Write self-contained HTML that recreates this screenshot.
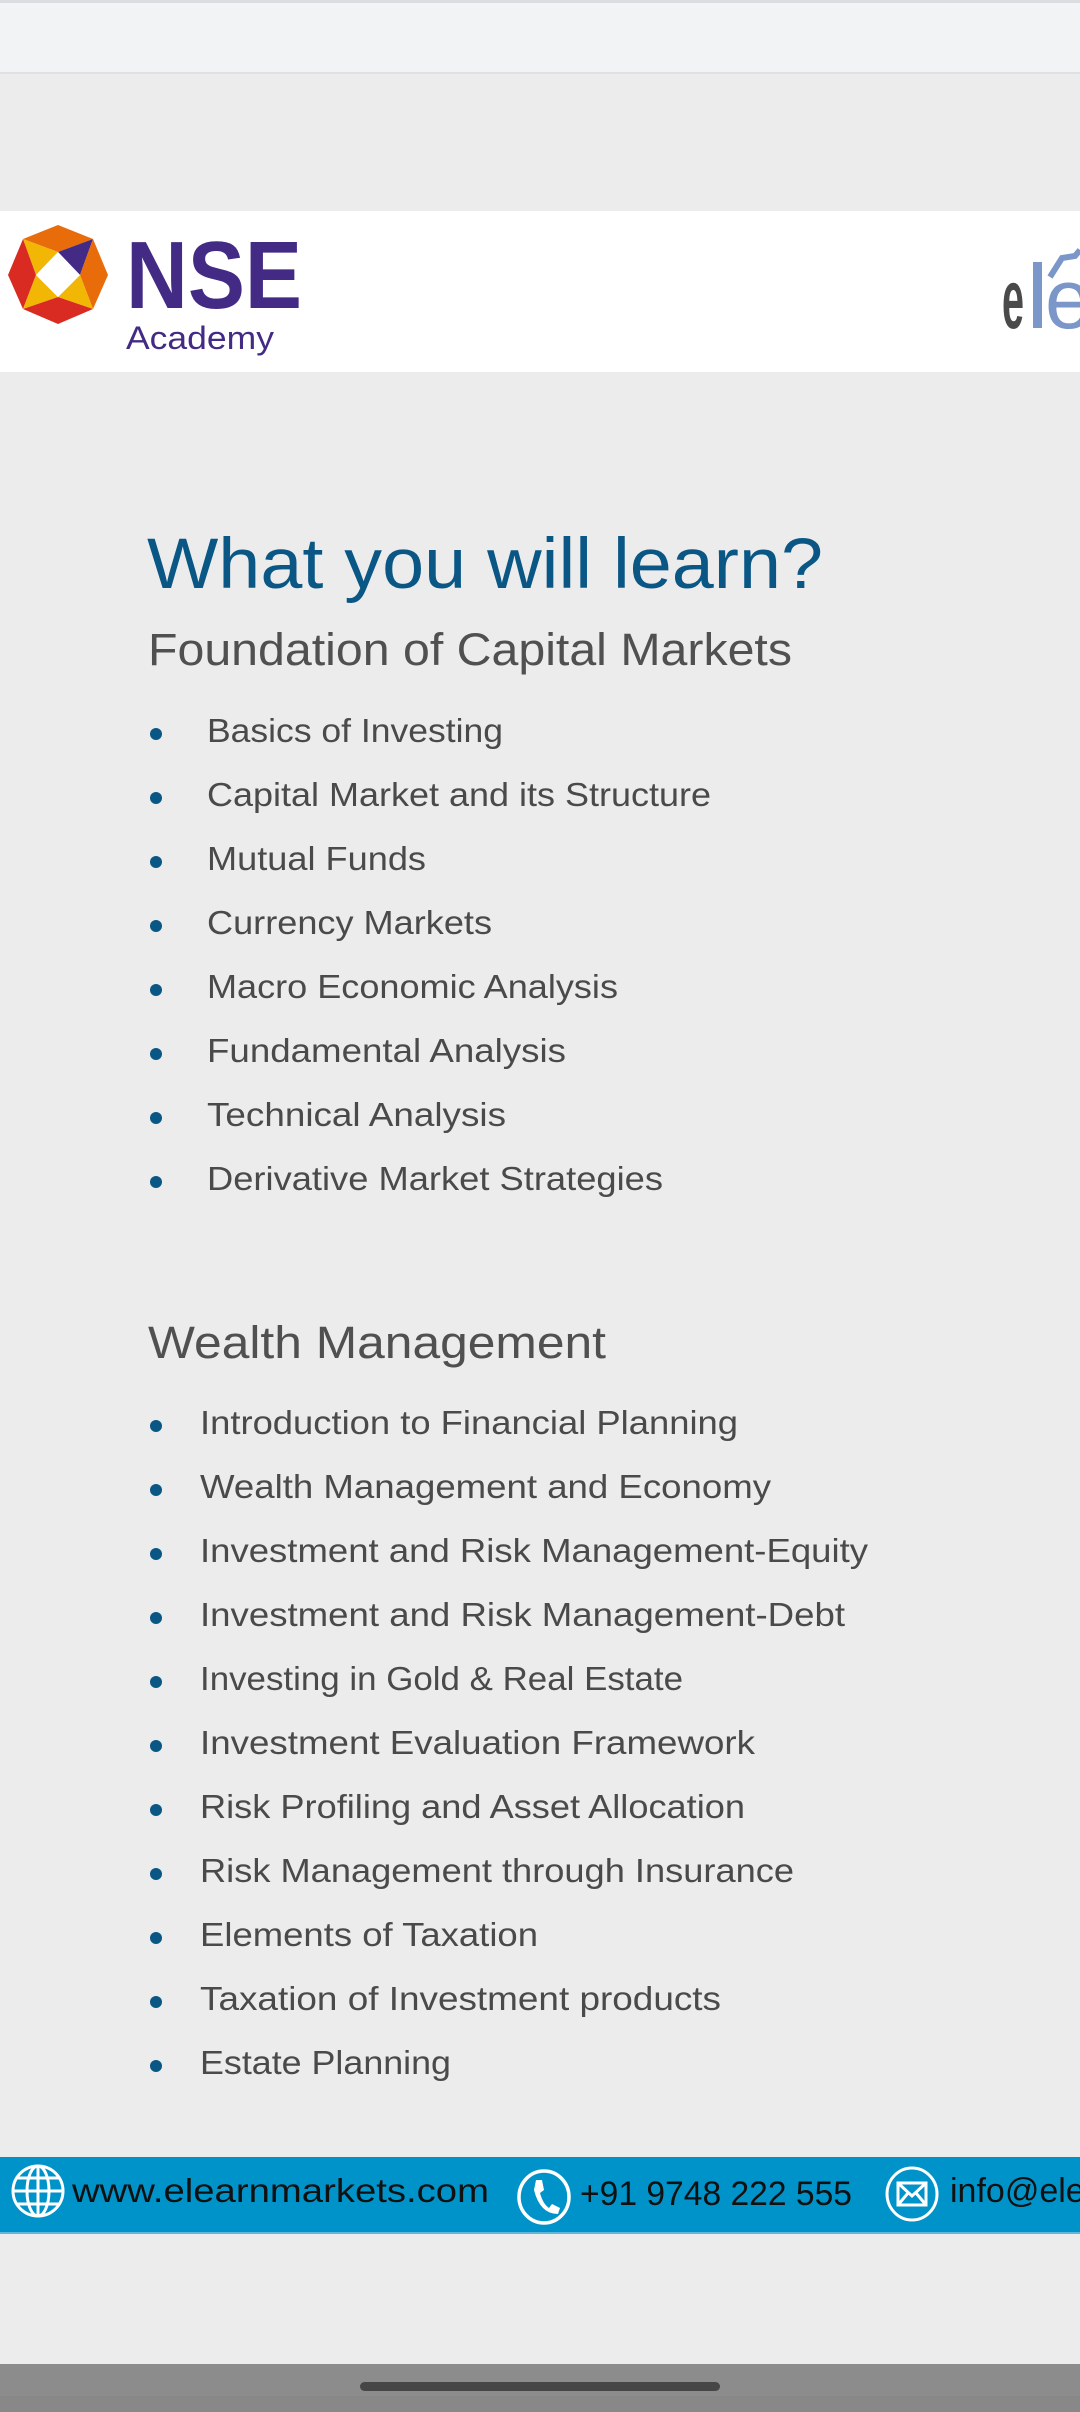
<!DOCTYPE html>
<html><head><meta charset="utf-8"><style>
html,body{margin:0;padding:0;background:#ececec;}
svg{display:block;}
text{font-family:"Liberation Sans",sans-serif;}
</style></head><body>
<svg width="1080" height="2412" viewBox="0 0 1080 2412" xmlns="http://www.w3.org/2000/svg">
<rect x="0" y="0" width="1080" height="2412" fill="#ececec"/>
<g>
<rect x="0" y="0" width="1080" height="73" fill="#f2f3f5"/>
<rect x="0" y="0" width="1080" height="3" fill="#dcdde0"/>
<rect x="0" y="72" width="1080" height="2" fill="#dfe0e3"/>
</g>
<g>
<rect x="0" y="211" width="1080" height="161" fill="#ffffff"/>
<g>
<polygon points="58,225 93,239 58,252 23,239" fill="#e86c0a"/>
<polygon points="23,239 58,252 36,275" fill="#f2b705"/>
<polygon points="93,239 58,252 80,275" fill="#432a84"/>
<polygon points="23,239 36,275 23,309 8,275" fill="#d92b21"/>
<polygon points="93,239 108,275 93,309 80,275" fill="#e86c0a"/>
<polygon points="36,275 58,297 23,309" fill="#f2b705"/>
<polygon points="80,275 58,297 93,309" fill="#f2b705"/>
<polygon points="23,309 58,297 93,309 58,324" fill="#d92b21"/>
<polygon points="58,252 80,275 58,297 36,275" fill="#ffffff"/>
</g>
<text x="126" y="308" font-size="96" font-weight="bold" fill="#432a84" textLength="176" lengthAdjust="spacingAndGlyphs">NSE</text>
<text x="126" y="349" font-size="32" fill="#432a84" textLength="148" lengthAdjust="spacingAndGlyphs">Academy</text>
<g>
<text x="1002" y="328" font-size="84" font-weight="bold" fill="#4a4a4a" textLength="22" lengthAdjust="spacingAndGlyphs">e</text>
<rect x="1033" y="262" width="9" height="66" fill="#7b96c8"/>
<text x="1045" y="328" font-size="84" fill="#7b96c8">e</text>
<path d="M1050,277 L1062,258 L1075,256 L1080,250" stroke="#7b96c8" stroke-width="6" fill="none"/>
</g>
</g>
<text x="147" y="588" font-size="71" fill="#0a5785" textLength="676" lengthAdjust="spacingAndGlyphs">What you will learn?</text>
<text x="148" y="665" font-size="45" fill="#505050" textLength="644" lengthAdjust="spacingAndGlyphs">Foundation of Capital Markets</text>
<g id="list1"></g>
<text x="148" y="1358" font-size="45" fill="#505050" textLength="458" lengthAdjust="spacingAndGlyphs">Wealth Management</text>
<g id="list2"></g>
<g>
<rect x="0" y="2157" width="1080" height="77" fill="#0093c9"/>
<rect x="0" y="2232" width="1080" height="2" fill="#5fb7dd"/>
<g stroke="#ffffff" stroke-width="3" fill="none">
<circle cx="38" cy="2191" r="25"/>
<ellipse cx="38" cy="2191" rx="11" ry="25"/>
<line x1="38" y1="2166" x2="38" y2="2216"/>
<line x1="13" y1="2191" x2="63" y2="2191"/>
<line x1="17" y1="2178" x2="59" y2="2178"/>
<line x1="17" y1="2204" x2="59" y2="2204"/>
</g>
<text x="72" y="2202" font-size="33" fill="#111111" textLength="417" lengthAdjust="spacingAndGlyphs">www.elearnmarkets.com</text>
<g>
<ellipse cx="544" cy="2197" rx="25" ry="26" stroke="#ffffff" stroke-width="3.5" fill="none"/>
<path d="M536,2180 L542,2180 L544,2190 L540,2193 Q543,2204 549,2208 L552,2204 L560,2208 L558,2214 Q540,2214 534,2190 Z" fill="#ffffff"/>
</g>
<text x="580" y="2205" font-size="34" fill="#111111" textLength="272" lengthAdjust="spacingAndGlyphs">+91 9748 222 555</text>
<g stroke="#ffffff" stroke-width="3" fill="none">
<ellipse cx="912" cy="2194" rx="25" ry="26"/>
<rect x="898" y="2183" width="28" height="22"/>
<path d="M898,2183 L912,2196 L926,2183 M898,2205 L908,2193 M926,2205 L916,2193"/>
</g>
<text x="950" y="2202" font-size="34" fill="#111111">info@elearnmarkets.com</text>
</g>
<g>
<rect x="0" y="2364" width="1080" height="48" fill="#8c8c8c"/>
<rect x="0" y="2396" width="1080" height="16" fill="#888888"/>
<rect x="360" y="2382" width="360" height="9" rx="4.5" fill="#464646"/>
</g>
</svg>
<script>
const foundationItems = ["Basics of Investing","Capital Market and its Structure","Mutual Funds","Currency Markets","Macro Economic Analysis","Fundamental Analysis","Technical Analysis","Derivative Market Strategies"];
const foundationWidths = [296,504,219,285,411,359,299,456];
const wealthItems = ["Introduction to Financial Planning","Wealth Management and Economy","Investment and Risk Management-Equity","Investment and Risk Management-Debt","Investing in Gold & Real Estate","Investment Evaluation Framework","Risk Profiling and Asset Allocation","Risk Management through Insurance","Elements of Taxation","Taxation of Investment products","Estate Planning"];
const wealthWidths = [538,571,668,645,483,555,545,594,338,521,251];
const NS = "http://www.w3.org/2000/svg";
function build(gid, items, widths, textX, firstBase) {
  const g = document.getElementById(gid);
  items.forEach((t, i) => {
    const y = firstBase + i * 64;
    const c = document.createElementNS(NS, "circle");
    c.setAttribute("cx", 156); c.setAttribute("cy", y - 8); c.setAttribute("r", 6);
    c.setAttribute("fill", "#0a5785");
    
    
    g.appendChild(c);
    const tx = document.createElementNS(NS, "text");
    tx.setAttribute("x", textX); tx.setAttribute("y", y);
    tx.setAttribute("font-size", "33"); tx.setAttribute("fill", "#4a4a4a");
    tx.setAttribute("textLength", widths[i]); tx.setAttribute("lengthAdjust", "spacingAndGlyphs");
    tx.textContent = t;
    
    
    g.appendChild(tx);
  });
}
build("list1", foundationItems, foundationWidths, 207, 742);
build("list2", wealthItems, wealthWidths, 200, 1434);
</script>
</body></html>
